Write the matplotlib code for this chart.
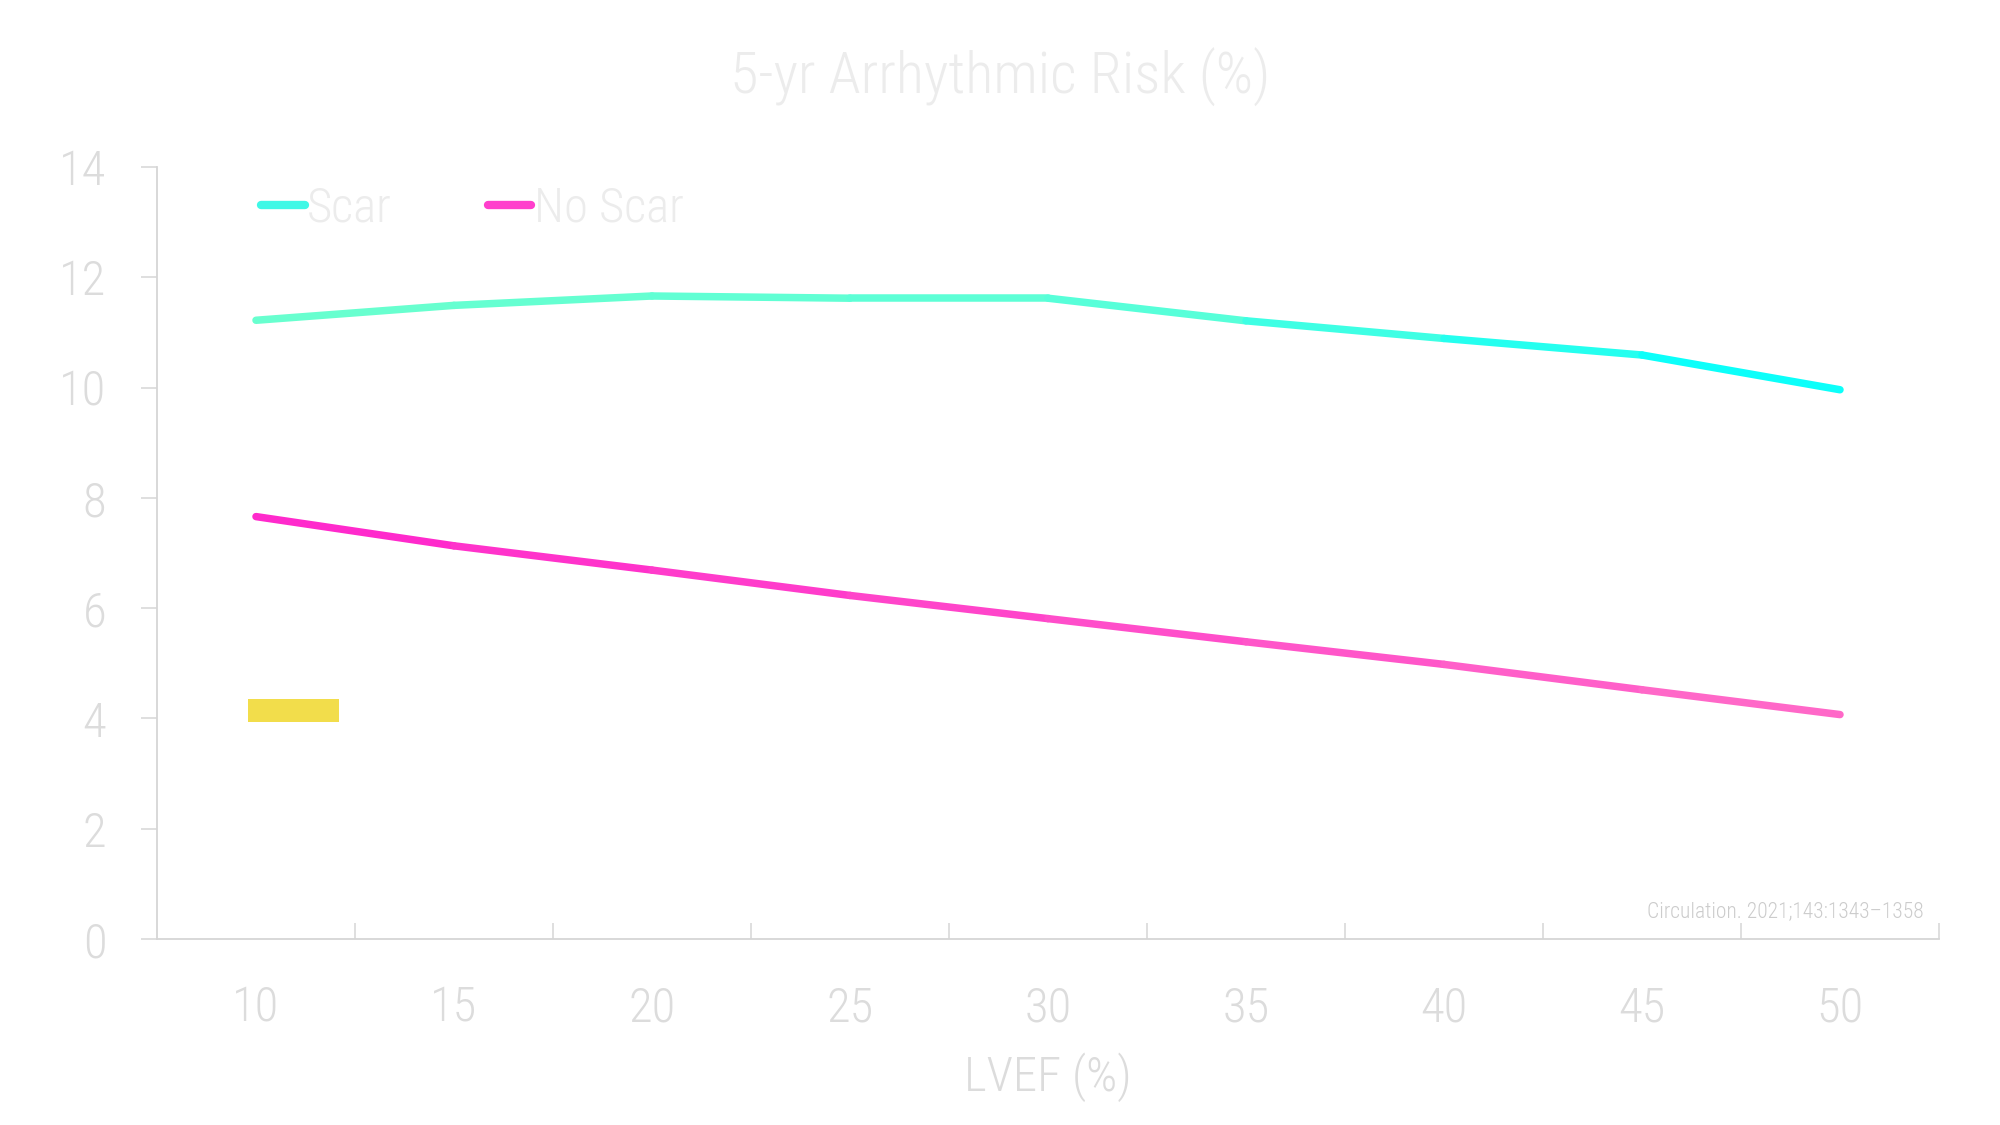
import numpy as np
import matplotlib
matplotlib.use("Agg")
import matplotlib.pyplot as plt
from matplotlib import font_manager as fm
from matplotlib.collections import LineCollection
from matplotlib.colors import LinearSegmentedColormap
from matplotlib.lines import Line2D

# Data
lvef = [10, 15, 20, 25, 30, 35, 40, 45, 50]
scar = [11.22, 11.49, 11.66, 11.62, 11.62, 11.21, 10.89, 10.59, 9.96]
no_scar = [7.66, 7.13, 6.69, 6.23, 5.81, 5.39, 4.98, 4.52, 4.07]
series_names = ["Scar", "No Scar"]
y_ticks = [0, 2, 4, 6, 8, 10, 12, 14]
highlight_lvef = 10
highlight_range = (3.94, 4.35)

# Font: prefer a condensed family when one is installed
installed = {f.name for f in fm.fontManager.ttflist}
font = "DejaVu Sans"
for cand in ["Roboto Condensed", "Liberation Sans Narrow", "Open Sans Condensed", "Roboto"]:
    if cand in installed:
        font = cand
        break
plt.rcParams["font.family"] = [font, "DejaVu Sans"]
plt.rcParams["font.weight"] = "light"
plt.rcParams["axes.labelweight"] = "light"

spine_col = "#d6d6d6"
label_col = "#dcdcdc"

fig = plt.figure(figsize=(20, 11.25), dpi=100)
ax = fig.add_axes([0.0785, 0.1653, 0.891, 0.6863])

x = np.arange(len(lvef))


def gradient_line(xs, ys, stops, lw):
    pts = np.column_stack([xs, ys])
    segs = np.stack([pts[:-1], pts[1:]], axis=1)
    cmap = LinearSegmentedColormap.from_list("g", stops)
    t = (np.asarray(xs[:-1]) + np.asarray(xs[1:])) / 2 / xs[-1]
    lc = LineCollection(segs, colors=cmap(t), linewidths=lw, capstyle="round",
                        joinstyle="round", zorder=3)
    ax.add_collection(lc)


gradient_line(x, scar, [(0, "#6affce"), (0.55, "#5affd8"), (1, "#00ffff")], 5.4)
gradient_line(x, no_scar, [(0, "#ff26cc"), (1, "#ff6cc8")], 5.4)

# Yellow marker block
hx = lvef.index(highlight_lvef)
ax.bar(hx + 0.19, highlight_range[1] - highlight_range[0], width=0.46,
       bottom=highlight_range[0], color="#f2dd4b", zorder=2)

ax.set_xlim(-0.5, len(lvef) - 0.5)
ax.set_ylim(0, 14)

for s in ["top", "right"]:
    ax.spines[s].set_visible(False)
for s in ["left", "bottom"]:
    ax.spines[s].set_color(spine_col)
    ax.spines[s].set_linewidth(1.3)

ax.set_yticks(y_ticks)
ax.set_yticklabels([str(v) for v in y_ticks])
ax.tick_params(axis="y", direction="out", length=11.5, width=1.1, color=spine_col,
               pad=25, labelsize=35, labelcolor=label_col)

ax.set_xticks(x)
ax.set_xticklabels([str(v) for v in lvef])
ax.tick_params(axis="x", which="major", length=0, pad=33, labelsize=35,
               labelcolor=label_col)
ax.set_xticks(x + 0.5, minor=True)
ax.tick_params(axis="x", which="minor", direction="in", length=11.5, width=1.1,
               color=spine_col)

ax.set_xlabel("LVEF (%)", fontsize=35, color=label_col, labelpad=15,
              fontweight="light")

fig.text(0.5, 0.917, "5-yr Arrhythmic Risk (%)", ha="center", va="baseline",
         fontsize=42, color="#ececec")

ax.text(0.9915, 0.028, "Circulation. 2021;143:1343\u20131358", transform=ax.transAxes,
        ha="right", va="baseline", fontsize=15.5, color="#cccccc")

handles = [Line2D([], [], color="#3ff8e6", lw=6, solid_capstyle="round"),
           Line2D([], [], color="#ff3fcc", lw=6, solid_capstyle="round")]
fig.legend(handles, series_names, loc="center left", bbox_to_anchor=(0.1305, 0.8145),
           ncol=2, frameon=False, fontsize=35, labelcolor="#ececec",
           handlelength=0.9, handletextpad=0.05, columnspacing=1.97,
           borderpad=0, borderaxespad=0)

fig.savefig("out.png", dpi=100, facecolor="white")
